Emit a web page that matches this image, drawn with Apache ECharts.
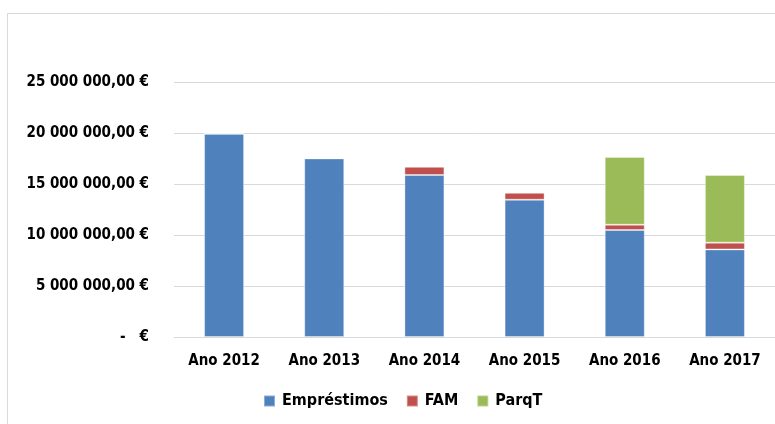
<!DOCTYPE html>
<html><head><meta charset="utf-8">
<script src="https://cdn.jsdelivr.net/npm/echarts@6/dist/echarts.min.js"></script>
<style>html,body{margin:0;padding:0;background:#fff}#c{width:775px;height:424px}</style>
</head><body><div id="c"></div>
<script>
const categories = ['Ano 2012','Ano 2013','Ano 2014','Ano 2015','Ano 2016','Ano 2017'];
const emprestimos = [19930000, 17510000, 15880000, 13460000, 10490000, 8590000];
const fam = [0, 0, 820000, 690000, 520000, 660000];
const parqT = [0, 0, 0, 0, 6640000, 6630000];
const seriesNames = ['Empréstimos','FAM','ParqT'];
const colors = ['#4F81BD','#C0504D','#9BBB59'];

const FONT = '"DejaVu Sans Condensed", "DejaVu Sans", sans-serif';
function fmt(v){
  if (v === 0) return '-   €';
  const s = Math.round(v).toString().replace(/\B(?=(\d{3})+(?!\d))/g, ' ');
  return s + ',00 €';
}
const chart = echarts.init(document.getElementById('c'), null, {renderer:'canvas'});
const data = [emprestimos, fam, parqT];
chart.setOption({
  animation:false,
  color: colors,
  graphic:[{type:'polyline', shape:{points:[[7.5,830],[7.5,13.5],[800,13.5]]}, style:{stroke:'#d9d9d9', lineWidth:1, fill:null}, silent:true}],
  grid:{left:174, right:0, top:82, bottom:87, containLabel:false},
  legend:{
    data: seriesNames, bottom: 15, left: 263, padding:0, itemWidth:11, itemHeight:11, itemGap:18,
    icon:'rect',
    textStyle:{fontFamily:FONT, fontWeight:'bold', fontSize:16, color:'#000', padding:[0,0,0,2]}
  },
  xAxis:{type:'category', data:categories,
    axisLine:{lineStyle:{color:'#d9d9d9'}}, axisTick:{show:false},
    axisLabel:{fontFamily:FONT, fontWeight:'bold', fontSize:15, color:'#000', margin:17}},
  yAxis:{type:'value', min:0, max:25000000, interval:5000000,
    axisLine:{show:false}, axisTick:{show:false},
    splitLine:{lineStyle:{color:'#d9d9d9', width:1}},
    axisLabel:{fontFamily:FONT, fontWeight:'bold', fontSize:15, color:'#000', margin:25, formatter:fmt}},
  series: seriesNames.map((n,i)=>({
    name:n, type:'bar', stack:'total', data:data[i], barWidth:40,
    itemStyle:{color:colors[i], borderColor:'rgba(255,255,255,0.35)', borderWidth:1}
  }))
});
</script></body></html>
